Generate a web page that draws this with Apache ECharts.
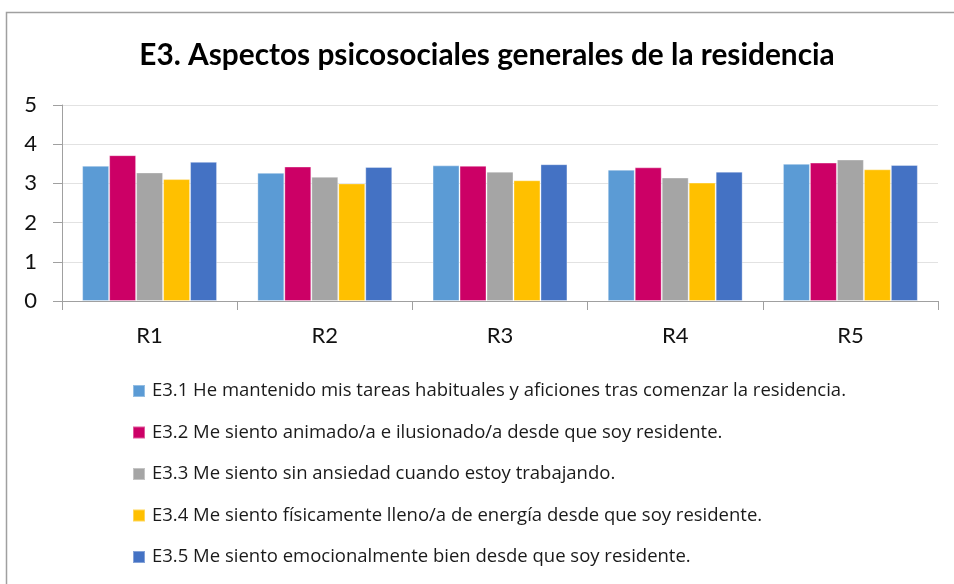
<!DOCTYPE html>
<html>
<head>
<meta charset="utf-8">
<script src="https://cdn.jsdelivr.net/npm/echarts@6/dist/echarts.min.js"></script>
<style>
  html, body { margin: 0; padding: 0; background: #fff; }
  #chart { width: 954px; height: 584px; }
</style>
</head>
<body>
<div id="chart"></div>
<script>
// Residence groups on the x axis
const categories = ['R1', 'R2', 'R3', 'R4', 'R5'];

// Item labels (legend) and their mean scores per residence
const seriesNames = [
  'E3.1 He mantenido mis tareas habituales y aficiones tras comenzar la residencia.',
  'E3.2 Me siento animado/a e ilusionado/a desde que soy residente.',
  'E3.3 Me siento sin ansiedad cuando estoy trabajando.',
  'E3.4 Me siento físicamente lleno/a de energía desde que soy residente.',
  'E3.5 Me siento emocionalmente bien desde que soy residente.'
];
const e31 = [3.45, 3.27, 3.46, 3.35, 3.50];
const e32 = [3.72, 3.43, 3.45, 3.41, 3.53];
const e33 = [3.28, 3.17, 3.30, 3.15, 3.61];
const e34 = [3.11, 3.00, 3.08, 3.02, 3.36];
const e35 = [3.55, 3.42, 3.49, 3.30, 3.47];

const seriesColors = ['#5B9BD5', '#CC0066', '#A5A5A5', '#FFC000', '#4472C4'];
const yTicks = [0, 1, 2, 3, 4, 5];

const FONT = 'Lato, "Open Sans", sans-serif';
const LEGEND_FONT = '"Open Sans", Lato, sans-serif';
const values = [e31, e32, e33, e34, e35];

const chart = echarts.init(document.getElementById('chart'), null, { renderer: 'canvas' });

chart.setOption({
  animation: false,
  backgroundColor: '#ffffff',
  textStyle: { fontFamily: FONT },
  title: {
    text: 'E3. Aspectos psicosociales generales de la residencia',
    left: 482,
    textAlign: 'center',
    top: 35,
    textStyle: { fontFamily: FONT, fontSize: 29.8, fontWeight: 'bold', color: '#000000' }
  },
  grid: { left: 62, right: 16, top: 105, bottom: 283, containLabel: false },
  xAxis: {
    type: 'category',
    data: categories,
    axisLine: { show: true, lineStyle: { color: '#a0a0a0', width: 1 } },
    axisTick: { show: true, length: 9, lineStyle: { color: '#a0a0a0' } },
    axisLabel: { fontFamily: FONT, fontSize: 22, color: '#111111', margin: 24 }
  },
  yAxis: {
    type: 'value',
    min: yTicks[0],
    max: yTicks[yTicks.length - 1],
    interval: 1,
    axisLine: { show: true, lineStyle: { color: '#a0a0a0', width: 1 } },
    axisTick: { show: true, length: 9, lineStyle: { color: '#a0a0a0' } },
    axisLabel: { fontFamily: FONT, fontSize: 22, color: '#111111', margin: 25 },
    splitLine: { show: true, lineStyle: { color: '#e2e2e2', width: 1 } }
  },
  legend: {
    orient: 'vertical',
    left: 127,
    top: 376,
    itemWidth: 12,
    itemHeight: 12,
    itemGap: 21.5,
    icon: 'rect',
    data: seriesNames,
    textStyle: { fontFamily: LEGEND_FONT, fontSize: 18.5, color: '#1a1a1a', lineHeight: 20, padding: [0, 0, 0, 2] }
  },
  graphic: [{
    type: 'polyline',
    shape: { points: [[6.5, 584], [6.5, 12.5], [954, 12.5]] },
    style: { stroke: '#a0a0a0', lineWidth: 1.5, fill: null },
    silent: true
  }],
  series: seriesNames.map((name, i) => ({
    name: name,
    type: 'bar',
    data: values[i],
    barGap: '0%',
    barCategoryGap: '23%',
    itemStyle: { color: seriesColors[i], borderColor: 'rgba(255,255,255,0.35)', borderWidth: 1 }
  }))
});
</script>
</body>
</html>
